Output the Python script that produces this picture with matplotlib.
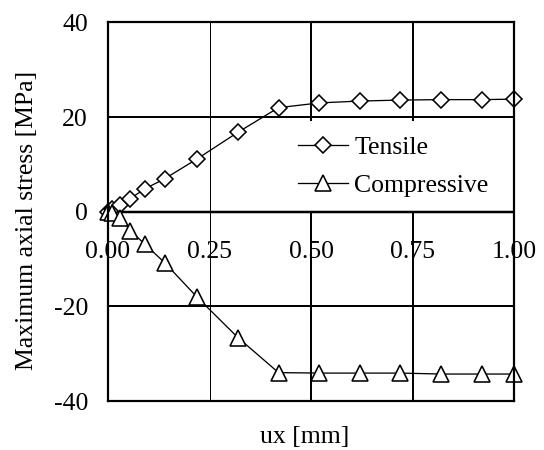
import matplotlib
matplotlib.use("Agg")
import matplotlib.pyplot as plt

# Displacement (mm) and maximum axial stress (MPa)
ux_tensile = [0.0, 0.01, 0.03, 0.055, 0.09, 0.14, 0.22, 0.32, 0.42, 0.52, 0.62, 0.72, 0.82, 0.92, 1.0]
stress_tensile = [0.0, 0.5, 1.4, 2.8, 4.8, 7.0, 11.2, 16.8, 22.0, 23.0, 23.4, 23.6, 23.7, 23.7, 23.8]

ux_compressive = [0.0, 0.01, 0.03, 0.055, 0.09, 0.14, 0.22, 0.32, 0.42, 0.52, 0.62, 0.72, 0.82, 0.92, 1.0]
stress_compressive = [0.0, -0.3, -1.3, -4.0, -6.8, -10.8, -18.1, -26.6, -34.0, -34.1, -34.1, -34.1, -34.3, -34.3, -34.3]

x_ticks = [0.0, 0.25, 0.5, 0.75, 1.0]
x_tick_labels = ["0.00", "0.25", "0.50", "0.75", "1.00"]
y_ticks = [-40, -20, 0, 20, 40]
y_tick_labels = ["-40", "-20", "0", "20", "40"]
series_labels = ["Tensile", "Compressive"]

FONT = "Liberation Serif"
FS = 18.5
PX = 72.0 / 100.0  # one pixel in points at dpi 100

plt.rcParams["font.family"] = [FONT, "DejaVu Serif"]

fig = plt.figure(figsize=(5.44, 4.5), dpi=100)
W, H = 544, 450
ax = fig.add_axes([108 / W, 1 - 401 / H, (514 - 108) / W, (401 - 22.5) / H])

ax.set_xlim(0, 1.0)
ax.set_ylim(-40, 40)

# grid lines
for xv, lw in zip([0.25, 0.5, 0.75], [1.0, 2.0, 2.0]):
    ax.axvline(xv, color="black", lw=lw * PX, zorder=1)
for yv in [20, -20]:
    ax.axhline(yv, color="black", lw=2 * PX, zorder=1)
# zero line stays on top of the legend background
ax.axhline(0, color="black", lw=2.5 * PX, zorder=2.5)

ax.plot(ux_tensile, stress_tensile, color="black", lw=1.3 * PX, marker="D",
        markersize=8.5, markerfacecolor="white", markeredgecolor="black",
        markeredgewidth=1.6 * PX, label=series_labels[0], zorder=3, clip_on=False)
ax.plot(ux_compressive, stress_compressive, color="black", lw=1.3 * PX, marker="^",
        markersize=11, markerfacecolor="white", markeredgecolor="black",
        markeredgewidth=1.6 * PX, label=series_labels[1], zorder=3, clip_on=False)

for s in ax.spines.values():
    s.set_linewidth(2.2 * PX)
    s.set_zorder(4)

ax.set_xticks([])
ax.set_yticks(y_ticks)
ax.set_yticklabels(y_tick_labels, fontsize=FS, family=FONT)
ax.tick_params(axis="y", length=0, pad=20 * PX)

# x tick labels sit just under the zero line
for xv, lab in zip(x_ticks, x_tick_labels):
    ax.annotate(lab, xy=(xv, 0), xytext=(0, -29), textcoords="offset pixels",
                ha="center", va="top", fontsize=FS, family=FONT, zorder=5,
                annotation_clip=False)

leg = ax.legend(loc="upper left", bbox_to_anchor=(283 / W, 1 - 121 / H),
                bbox_transform=fig.transFigure, frameon=True, fancybox=False,
                framealpha=1, facecolor="white", edgecolor="none",
                prop={"family": FONT, "size": FS}, handlelength=1.95,
                handletextpad=0.25, labelspacing=0.6, borderpad=0.57,
                borderaxespad=0)
leg.set_zorder(2)

fig.text(27 / W, 1 - 220 / H, "Maximum axial stress [MPa]", rotation=90,
         ha="center", va="center", fontsize=FS, family=FONT)
fig.text(305 / W, 1 - 437 / H, "ux [mm]", ha="center", va="center",
         fontsize=FS, family=FONT)

fig.savefig("out.png", dpi=100)
